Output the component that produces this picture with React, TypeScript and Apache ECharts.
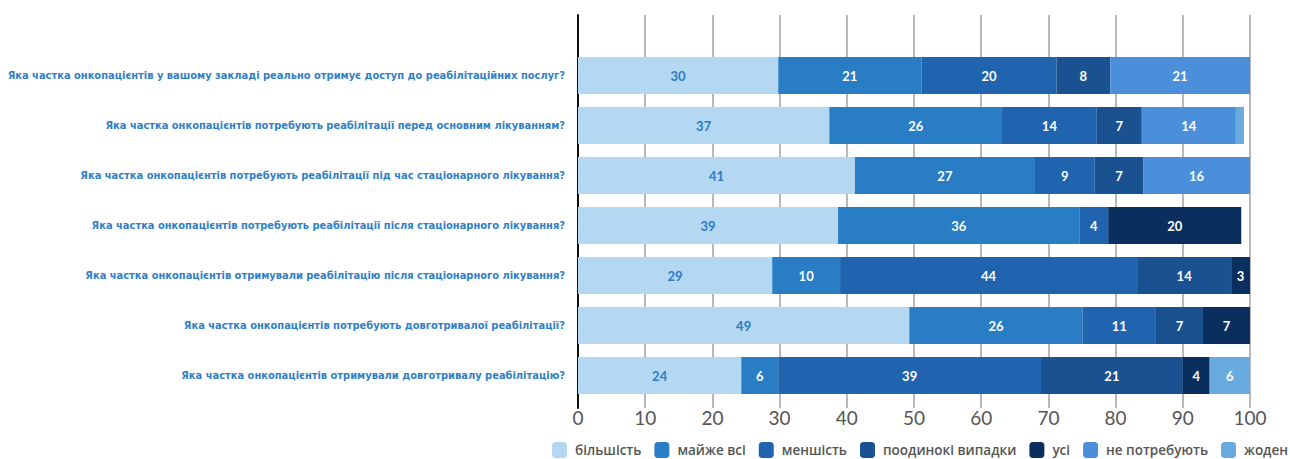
import React, { useEffect, useRef } from "react";
import * as echarts from "echarts";

const categories = [
  "Яка частка онкопацієнтів у вашому закладі реально отримує доступ до реабілітаційних послуг?",
  "Яка частка онкопацієнтів потребують реабілітації перед основним лікуванням?",
  "Яка частка онкопацієнтів потребують реабілітації під час стаціонарного лікування?",
  "Яка частка онкопацієнтів потребують реабілітації після стаціонарного лікування?",
  "Яка частка онкопацієнтів отримували реабілітацію після стаціонарного лікування?",
  "Яка частка онкопацієнтів потребують довготривалої реабілітації?",
  "Яка частка онкопацієнтів отримували довготривалу реабілітацію?",
];

const seriesNames = [
  "більшість",
  "майже всі",
  "меншість",
  "поодинокі випадки",
  "усі",
  "не потребують",
  "жоден",
];

const bilshist = [29.8, 37.4, 41.2, 38.7, 28.9, 49.3, 24.3];
const mayzheVsi = [21.3, 25.7, 26.8, 35.9, 10.1, 25.8, 5.5];
const menshist = [20.1, 14.1, 8.9, 4.3, 44.2, 10.9, 39.1];
const poodynoki = [8.0, 6.7, 7.2, null, 14.0, 7.0, 21.1];
const usi = [null, null, null, 19.8, 2.8, 7.0, 4.0];
const nePotrebuyut = [20.8, 14.0, 15.9, null, null, null, null];
const zhoden = [null, 1.2, null, null, null, null, 6.0];

const seriesValues = [bilshist, mayzheVsi, menshist, poodynoki, usi, nePotrebuyut, zhoden];

const xTicks = { min: 0, max: 100, interval: 10 };

const colors = ["#b4d8f1", "#287dc4", "#2063af", "#1a5190", "#0a2f5f", "#4b8fda", "#6aabdf"];

export default function App() {
  const ref = useRef<HTMLDivElement>(null);
  useEffect(() => {
    if (!ref.current) return;
    const chart = echarts.init(ref.current, null, { renderer: "svg" });
    const option: any = {
      animation: false,
      color: colors,
      grid: [
        { left: 578, right: 40, top: 50.5, height: 350, containLabel: false, outerBoundsMode: "none" },
        { left: 578, right: 40, top: 15, height: 393, containLabel: false, outerBoundsMode: "none" },
      ],
      legend: {
        data: seriesNames,
        left: 552,
        top: 442,
        padding: 0,
        itemWidth: 15,
        itemHeight: 16,
        itemGap: 13,
        icon: "roundRect",
        textStyle: {
          color: "#555",
          fontSize: 13.5,
          fontWeight: 600,
          fontFamily: "Open Sans",
          padding: [0, 0, 0, 3],
        },
      },
      xAxis: [
        { type: "value", gridIndex: 0, min: 0, max: 100, show: false },
        {
          type: "value",
          gridIndex: 1,
          min: xTicks.min,
          max: xTicks.max,
          interval: xTicks.interval,
          axisLine: { show: false },
          axisTick: { show: false },
          axisLabel: { color: "#555", fontSize: 19, margin: 0, fontFamily: "Lato" },
          splitLine: { show: true, lineStyle: { color: "#a0a0a0", width: 1.5 } },
        },
      ],
      yAxis: [
        {
          type: "category",
          gridIndex: 0,
          data: categories,
          inverse: true,
          axisLine: { show: false },
          axisTick: { show: false },
          axisLabel: {
            color: "#2f80c9",
            fontSize: 11,
            fontWeight: "bold",
            fontFamily: "'DejaVu Sans Condensed', Roboto, sans-serif",
            margin: 13,
          },
        },
        {
          type: "value",
          gridIndex: 1,
          axisLine: { show: true, lineStyle: { color: "#111", width: 2 } },
          axisTick: { show: false },
          axisLabel: { show: false },
          splitLine: { show: false },
        },
      ],
      series: seriesNames.map((name, i) => ({
        name,
        type: "bar",
        stack: "total",
        xAxisIndex: 0,
        yAxisIndex: 0,
        barWidth: 37,
        data: seriesValues[i],
        itemStyle: { color: colors[i] },
        label: {
          show: true,
          position: "inside",
          color: i === 0 ? "#2e7bc4" : "#fff",
          fontSize: 13,
          fontWeight: "bold",
          fontFamily: "Lato",
          formatter: (p: any) => (p.value == null || p.value < 2 ? "" : String(Math.round(p.value))),
        },
      })),
    };
    chart.setOption(option);
    return () => chart.dispose();
  }, []);
  return (
    <div
      ref={ref}
      style={{ position: "fixed", left: 0, top: 0, width: 1290, height: 459, background: "#fff" }}
    />
  );
}
